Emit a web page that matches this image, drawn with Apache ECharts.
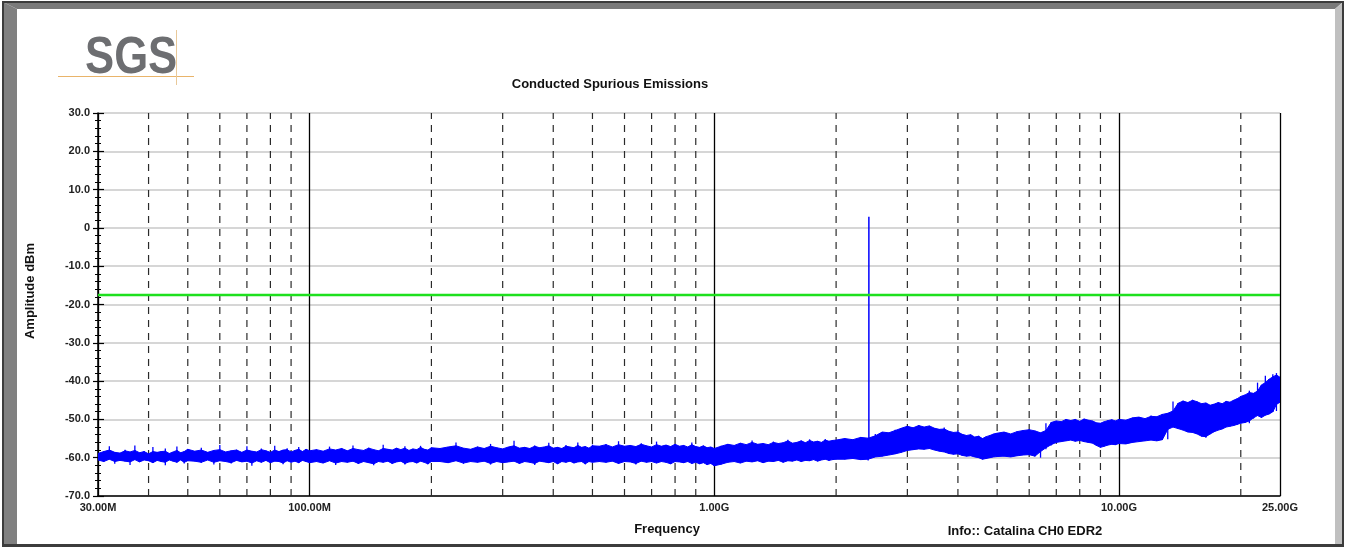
<!DOCTYPE html>
<html><head><meta charset="utf-8">
<script src="https://cdn.jsdelivr.net/npm/echarts@6/dist/echarts.min.js"></script>
<style>html,body{margin:0;padding:0;background:#fff}#c{width:1346px;height:548px}</style>
</head><body><div id="c"></div>
<script>
// ---- data (frequency in MHz, levels in dBm) ----
const freqMHz = [
  30,31,32,33,34,35,36,37,38,39,40,41,42,43,44,45,46,47,48,49,50,
  52,54,56,58,60,62,64,66,68,70,72,74,76,78,80,82,84,86,88,90,92,94,96,98,100,
  104,108,112,116,120,124,128,132,136,140,144,148,152,156,160,164,168,172,176,180,184,188,192,196,200,
  210,220,230,240,250,260,270,280,290,300,310,320,330,340,350,360,370,380,390,400,410,420,430,440,450,460,470,480,490,500,
  520,540,560,580,600,620,640,660,680,700,720,740,760,780,800,820,840,860,880,900,920,940,960,980,1000,
  1040,1080,1120,1160,1200,1240,1280,1320,1360,1400,1440,1480,1520,1560,1600,1640,1680,1720,1760,1800,1840,1880,1920,1960,2000,
  2100,2200,2300,2400,2500,2600,2700,2800,2900,3000,3100,3200,3300,3400,3500,3600,3700,3800,3900,4000,4100,4200,4300,4400,4500,4600,4700,4800,4900,5000,
  5200,5400,5600,5800,6000,6200,6400,6600,6800,7000,7200,7400,7600,7800,8000,8200,8400,8600,8800,9000,9200,9400,9600,9800,10000,
  10400,10800,11200,11600,12000,12400,12800,13200,13600,14000,14400,14800,15200,15600,16000,16400,16800,17200,17600,18000,18400,18800,19200,19600,20000,
  20500,21000,21500,22000,22500,23000,23500,24000,24500,25000
];
const traceHigh = [
  -58.9,-58.4,-57.0,-58.6,-58.8,-57.9,-58.5,-56.8,-58.7,-58.3,-59.0,-57.2,-58.6,-58.4,-57.6,-58.9,-58.5,-57.1,-58.7,-58.4,-57.8,
  -58.3,-57.4,-58.6,-58.1,-56.7,-58.5,-58.2,-57.9,-58.6,-57.0,-58.3,-58.5,-57.6,-58.2,-58.6,-56.9,-58.4,-58.0,-57.5,-58.5,-58.1,-57.2,-58.4,-57.8,-58.2,
  -57.9,-58.3,-57.1,-58.0,-57.6,-58.2,-56.8,-57.9,-58.1,-57.4,-57.9,-58.2,-56.6,-57.8,-58.0,-57.5,-57.9,-57.0,-58.1,-57.7,-57.9,-56.9,-57.8,-58.0,-57.4,
  -57.6,-57.2,-56.0,-57.5,-57.8,-57.1,-57.6,-56.4,-57.4,-57.7,-57.2,-55.6,-57.5,-57.3,-57.6,-56.8,-57.4,-57.2,-56.1,-57.5,-57.3,-57.6,-56.7,-57.2,-57.4,-56.0,-57.3,-57.1,-57.5,-56.6,
  -57.0,-56.5,-57.2,-55.7,-57.0,-56.8,-57.1,-56.2,-56.9,-57.2,-55.8,-57.0,-56.7,-57.1,-56.4,-57.0,-56.8,-57.2,-56.0,-57.1,-57.3,-56.9,-57.4,-57.2,-57.6,
  -56.9,-56.5,-56.8,-56.2,-56.6,-55.5,-56.5,-56.3,-56.6,-55.8,-56.3,-56.1,-55.3,-56.2,-56.0,-55.6,-56.1,-55.2,-55.9,-55.7,-56.0,-55.1,-55.7,-55.5,-55.4,
  -55.0,-55.3,-54.6,-54.9,-53.8,-53.3,-53.5,-52.7,-52.3,-51.8,-52.2,-51.5,-52.0,-51.7,-52.3,-52.6,-52.1,-53.1,-53.4,-52.9,-53.9,-54.2,-54.0,-54.6,-54.3,-55.0,-54.5,-54.2,-53.8,-53.6,
  -53.3,-53.8,-53.2,-52.9,-52.7,-53.0,-53.5,-51.0,-50.8,-50.4,-50.6,-49.9,-50.3,-50.0,-50.5,-49.8,-50.2,-50.4,-50.9,-51.0,-50.6,-50.3,-50.1,-50.4,-50.0,
  -50.2,-49.6,-49.4,-49.8,-49.0,-49.3,-48.6,-48.4,-45.3,-45.8,-45.1,-45.6,-44.9,-45.4,-45.9,-45.7,-46.3,-46.0,-45.6,-45.9,-45.3,-45.5,-45.0,-44.6,-44.0,
  -43.6,-42.5,-43.2,-40.4,-41.0,-38.6,-39.5,-38.2,-37.9,-39.0
];
const traceLow = [
  -60.6,-61.0,-60.4,-61.6,-60.7,-60.9,-61.9,-60.5,-61.1,-60.6,-60.8,-61.4,-60.7,-61.0,-62.0,-60.6,-60.9,-61.2,-60.6,-61.5,-60.8,
  -60.9,-61.3,-60.6,-61.8,-60.8,-61.0,-61.5,-60.7,-61.1,-60.9,-62.1,-60.8,-61.2,-60.7,-61.4,-60.9,-61.0,-61.7,-60.8,-61.2,-60.9,-61.4,-60.7,-61.0,-61.3,
  -61.0,-61.4,-60.8,-61.9,-61.0,-61.2,-60.9,-61.6,-61.0,-61.3,-62.0,-61.0,-61.2,-60.9,-61.5,-61.1,-60.9,-61.8,-61.1,-61.0,-61.4,-60.9,-61.2,-61.7,-61.0,
  -61.0,-61.3,-60.8,-61.6,-61.0,-61.2,-60.9,-61.8,-61.0,-61.3,-61.1,-60.9,-61.5,-61.0,-61.2,-61.9,-60.9,-61.1,-61.3,-61.0,-61.6,-61.0,-61.2,-60.9,-61.4,-61.1,-61.0,-61.7,-61.0,-61.2,
  -61.0,-61.2,-60.9,-61.5,-61.0,-61.1,-61.8,-60.9,-61.2,-61.0,-61.4,-61.0,-61.2,-61.6,-61.0,-61.1,-61.3,-61.0,-61.5,-61.2,-61.6,-61.3,-61.8,-61.5,-62.1,
  -61.7,-61.2,-61.0,-61.4,-60.9,-61.1,-60.8,-61.3,-60.9,-61.0,-60.7,-61.2,-60.8,-60.9,-60.6,-61.0,-60.7,-60.8,-60.5,-60.9,-60.6,-60.4,-60.7,-60.5,-60.4,
  -60.4,-60.2,-60.5,-60.7,-59.8,-59.6,-59.3,-59.0,-58.6,-58.1,-57.9,-57.7,-57.8,-57.6,-58.0,-58.3,-58.5,-58.9,-59.1,-59.0,-59.4,-59.6,-59.5,-59.8,-60.0,-60.4,-60.2,-60.0,-59.8,-59.7,
  -59.6,-59.8,-59.5,-59.3,-59.2,-59.6,-60.0,-57.8,-56.8,-56.0,-55.8,-55.6,-55.4,-55.7,-55.5,-55.8,-56.0,-56.2,-56.9,-57.3,-57.0,-56.7,-56.5,-56.6,-56.3,
  -56.4,-56.0,-55.8,-55.6,-55.4,-55.6,-55.3,-55.2,-52.0,-52.4,-52.8,-53.3,-53.4,-53.8,-54.4,-54.8,-53.9,-53.2,-52.8,-52.5,-52.0,-51.8,-51.6,-51.3,-51.0,
  -50.8,-51.0,-49.8,-49.0,-49.5,-48.9,-48.6,-48.0,-47.8,-45.5
];
const spikeFreqMHz = [2410, 2410];
const spikeLevel = [-57.0, 2.9];
const limitFreqMHz = [30, 25000];
const limitLevel = [-17.5, -17.5];
const dashedGridMHz = [40,50,60,70,80,90,200,300,400,500,600,700,800,900,2000,3000,4000,5000,6000,7000,8000,9000,20000];
const xMinMHz = 30, xMaxMHz = 25000;
const yMin = -70, yMax = 30, yStep = 10;

const FONT = '"Liberation Sans", Arial, Helvetica, sans-serif';
const chart = echarts.init(document.getElementById('c'), null, {renderer: 'canvas'});

// table for the trace series: [freqHz, low, high]
const bandTable = freqMHz.map((f, i) => [f * 1e6, traceLow[i], traceHigh[i]]);
const N = bandTable.length;

// core of the noise band at sample i: the tighter of its neighbours' extremes
function coreTop(i) {
  let v = bandTable[i][2];
  if (i > 0) v = Math.min(v, bandTable[i - 1][2] + 0.6);
  if (i < N - 1) v = Math.min(v, bandTable[i + 1][2] + 0.6);
  return v;
}
function coreBot(i) {
  let v = bandTable[i][1];
  if (i > 0) v = Math.max(v, bandTable[i - 1][1] - 0.6);
  if (i < N - 1) v = Math.max(v, bandTable[i + 1][1] - 0.6);
  return v;
}

function renderTrace(params, api) {
  const i = params.dataIndex;
  const a = bandTable[i];
  const children = [];
  // vertical excursion at this sample (min..max)
  const lo = api.coord([a[0], a[1]]);
  const hi = api.coord([a[0], a[2]]);
  children.push({type: 'line', shape: {x1: lo[0], y1: lo[1], x2: hi[0], y2: hi[1]},
    style: {stroke: '#0000ff', lineWidth: 1.3}});
  if (i < N - 1) {
    const b = bandTable[i + 1];
    const p1 = api.coord([a[0], coreBot(i)]);
    const p2 = api.coord([a[0], coreTop(i)]);
    const p3 = api.coord([b[0], coreTop(i + 1)]);
    const p4 = api.coord([b[0], coreBot(i + 1)]);
    children.push({type: 'polygon', shape: {points: [p1, p2, p3, p4]},
      style: {fill: '#0000ff', stroke: '#0000ff', lineWidth: 1}});
  }
  return {type: 'group', children: children};
}

const dashedSeries = dashedGridMHz.map(f => ({
  type: 'line', silent: true, z: 1, symbol: 'none', animation: false,
  data: [[f * 1e6, yMin], [f * 1e6, yMax]],
  lineStyle: {color: '#2a2a2a', width: 1.2, type: [7, 6]}
}));

function fmtX(v) {
  if (v >= 1e9 - 1) return (v / 1e9).toFixed(2) + 'G';
  return (v / 1e6).toFixed(2) + 'M';
}
function fmtY(v) { return v === 0 ? '0' : v.toFixed(1); }

const option = {
  animation: false,
  backgroundColor: '#ffffff',
  grid: {left: 98, right: 66, top: 113, bottom: 52, containLabel: false},
  xAxis: {
    type: 'log', logBase: 10, min: xMinMHz * 1e6, max: xMaxMHz * 1e6,
    axisLine: {show: true, onZero: false, lineStyle: {color: '#000', width: 1.5}},
    axisTick: {show: false},
    axisLabel: {formatter: fmtX, fontFamily: FONT, fontSize: 11, fontWeight: 'bold', color: '#222', margin: 6,
      showMinLabel: true, showMaxLabel: true},
    splitLine: {show: true, lineStyle: {color: '#000', width: 1.3}},
    minorTick: {show: false}, minorSplitLine: {show: false}
  },
  yAxis: [{
    type: 'value', min: yMin, max: yMax, interval: yStep, position: 'left',
    axisLine: {show: true, onZero: false, lineStyle: {color: '#000', width: 1.5}},
    axisTick: {show: true, inside: false, length: 5, lineStyle: {color: '#000', width: 1.2}},
    minorTick: {show: true, splitNumber: 5, length: 3, lineStyle: {color: '#000', width: 1}},
    axisLabel: {formatter: fmtY, fontFamily: FONT, fontSize: 11, fontWeight: 'bold', color: '#222', margin: 8},
    splitLine: {show: true, lineStyle: {color: '#c8c8c8', width: 1.5}}
  }, {
    type: 'value', min: yMin, max: yMax, interval: yStep, position: 'left', offset: 0,
    axisLine: {show: false, onZero: false},
    axisTick: {show: true, inside: true, length: 6, lineStyle: {color: '#000', width: 1.2}},
    minorTick: {show: true, splitNumber: 5, length: 3, lineStyle: {color: '#000', width: 1}},
    axisLabel: {show: false},
    splitLine: {show: false}
  }],
  series: dashedSeries.concat([
    {
      name: 'trace', type: 'custom', z: 3, renderItem: renderTrace,
      data: bandTable, encode: {x: 0, y: [1, 2]}, clip: true
    },
    {
      name: 'spike', type: 'line', z: 4, symbol: 'none',
      data: spikeFreqMHz.map((f, i) => [f * 1e6, spikeLevel[i]]),
      lineStyle: {color: '#0000ff', width: 1.5}
    },
    {
      name: 'limit', type: 'line', z: 5, symbol: 'none',
      data: limitFreqMHz.map((f, i) => [f * 1e6, limitLevel[i]]),
      lineStyle: {color: '#1ee01e', width: 2.5}
    }
  ]),
  graphic: [
    // window frame
    {type: 'polygon', silent: true, z: 100, shape: {points: [[3,2],[17,9],[17,545],[3,545]]}, style: {fill: '#808080'}},
    {type: 'polygon', silent: true, z: 100, shape: {points: [[3,2],[1343,2],[1335,9],[17,9]]}, style: {fill: '#7a7a7a'}},
    {type: 'polygon', silent: true, z: 100, shape: {points: [[1335,9],[1343,2],[1343,545],[1335,545]]}, style: {fill: '#c0c0c0'}},
    {type: 'rect', silent: true, z: 101, shape: {x: 2, y: 1, width: 1342, height: 2}, style: {fill: '#3c3c3c'}},
    {type: 'rect', silent: true, z: 101, shape: {x: 2, y: 1, width: 2, height: 546}, style: {fill: '#3c3c3c'}},
    {type: 'rect', silent: true, z: 101, shape: {x: 1342, y: 1, width: 2, height: 546}, style: {fill: '#3c3c3c'}},
    {type: 'rect', silent: true, z: 101, shape: {x: 2, y: 544, width: 1342, height: 3}, style: {fill: '#3c3c3c'}},
    // logo
    {type: 'line', silent: true, z: 90, shape: {x1: 58, y1: 76.5, x2: 194, y2: 76.5}, style: {stroke: '#e9b46a', lineWidth: 1}},
    {type: 'line', silent: true, z: 90, shape: {x1: 176.5, y1: 30, x2: 176.5, y2: 85}, style: {stroke: '#e9c99a', lineWidth: 1}},
    {type: 'text', silent: true, z: 91, x: 85, y: 59, scaleX: 0.84, scaleY: 1,
      style: {text: 'SGS', font: 'bold 52px ' + FONT, fill: '#6d6e71', textAlign: 'left', textVerticalAlign: 'middle'}},
    // title
    {type: 'text', silent: true, z: 91, x: 610, y: 84,
      style: {text: 'Conducted Spurious Emissions', font: 'bold 13px ' + FONT, fill: '#111', textAlign: 'center', textVerticalAlign: 'middle'}},
    // axis names
    {type: 'text', silent: true, z: 91, x: 30, y: 291, rotation: Math.PI / 2,
      style: {text: 'Amplitude dBm', font: 'bold 13px ' + FONT, fill: '#111', textAlign: 'center', textVerticalAlign: 'middle'}},
    {type: 'text', silent: true, z: 91, x: 667, y: 529,
      style: {text: 'Frequency', font: 'bold 13px ' + FONT, fill: '#111', textAlign: 'center', textVerticalAlign: 'middle'}},
    {type: 'text', silent: true, z: 91, x: 1025, y: 531,
      style: {text: 'Info:: Catalina CH0 EDR2', font: 'bold 13px ' + FONT, fill: '#111', textAlign: 'center', textVerticalAlign: 'middle'}}
  ]
};
chart.setOption(option);
</script>
</body></html>
